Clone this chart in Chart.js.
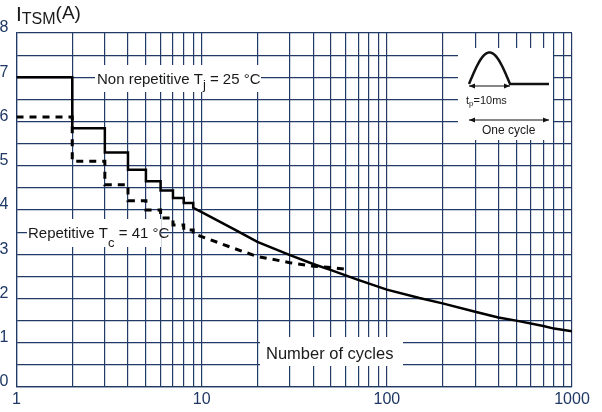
<!DOCTYPE html>
<html>
<head>
  <title>ITSM vs number of cycles</title>
  <script src="https://cdn.jsdelivr.net/npm/chart.js"></script>
  <style>
    html, body { margin: 0; padding: 0; background: #fff; }
    #wrap { width: 602px; height: 412px; }
  </style>
</head>
<body>
  <div id="wrap"><canvas id="surgeChart"></canvas></div>

  <script>
    // values
    var nonRepX = [1, 2, 2, 3, 3, 4, 4, 5, 5, 6, 6, 7, 7, 8, 8, 9, 9, 10, 15, 20, 30, 40, 50, 70, 100, 150, 200, 300, 400, 500, 700, 800, 1000];
    var nonRepY = [7, 7, 5.85, 5.85, 5.3, 5.3, 4.91, 4.91, 4.65, 4.65, 4.44, 4.44, 4.27, 4.27, 4.16, 4.16, 4.05, 3.95, 3.56, 3.28, 2.98, 2.78, 2.64, 2.42, 2.2, 2.01, 1.89, 1.7, 1.57, 1.5, 1.38, 1.32, 1.26];

    var repX = [1, 2, 2, 3, 3, 4, 4, 5, 5, 6, 6, 7, 7, 8, 8, 9, 9, 10, 15, 20, 30, 40, 50, 60];
    var repY = [6.1, 6.1, 5.1, 5.1, 4.57, 4.57, 4.21, 4.21, 4.0, 4.0, 3.82, 3.82, 3.66, 3.66, 3.55, 3.55, 3.46, 3.4, 3.13, 2.95, 2.81, 2.73, 2.7, 2.66];

    var xGrid = [1, 2, 3, 4, 5, 6, 7, 8, 9, 10, 20, 30, 40, 50, 60, 70, 80, 90, 100, 200, 300, 400, 500, 600, 700, 800, 900, 1000];
    var xLabels = [1, 10, 100, 1000];
    var yLabels = [0, 1, 2, 3, 4, 5, 6, 7, 8];

    var gridColor = "#223b66";
    var tickColor = "#1f3864";
    var fontName = "'Liberation Sans', Arial, sans-serif";

    function toPoints(xs, ys) {
      var pts = [];
      for (var i = 0; i < xs.length; i++) {
        pts.push({ x: xs[i], y: ys[i] });
      }
      return pts;
    }

    // draws text pieces one after another, some lowered as subscripts
    function drawPieces(ctx, pieces, x, y) {
      for (var i = 0; i < pieces.length; i++) {
        var p = pieces[i];
        ctx.font = p.size + "px " + fontName;
        ctx.fillText(p.text, x, y + (p.dy || 0));
        x += ctx.measureText(p.text).width;
      }
    }

    var overlayPlugin = {
      id: "overlay",
      beforeDatasetsDraw: function(chart) {
        var ctx = chart.ctx;
        ctx.save();
        ctx.fillStyle = "#fff";
        ctx.fillRect(95, 65, 166, 27);
        ctx.fillRect(27, 219, 134, 28);
        ctx.fillRect(260, 337, 143, 29);
        ctx.fillRect(458, 48, 95, 92);

        ctx.fillStyle = "#1a1a1a";
        ctx.textBaseline = "alphabetic";
        drawPieces(ctx, [
          { text: "Non repetitive T", size: 15 },
          { text: "j", size: 13, dy: 5 },
          { text: " = 25 \u00b0C", size: 15 }
        ], 97, 83.5);
        drawPieces(ctx, [
          { text: "Repetitive T", size: 15 },
          { text: "c", size: 13, dy: 9 },
          { text: " = 41 \u00b0C", size: 15 }
        ], 28, 238);
        drawPieces(ctx, [{ text: "Number of cycles", size: 16.5 }], 266, 359);

        // inset: one pulse
        ctx.strokeStyle = "#111";
        ctx.lineWidth = 2.5;
        ctx.beginPath();
        for (var i = 0; i <= 40; i++) {
          var t = i / 40;
          var px = 469 + t * 41;
          var py = 84 - Math.sin(Math.PI * t) * 31.5;
          if (i === 0) ctx.moveTo(px, py); else ctx.lineTo(px, py);
        }
        ctx.lineTo(549, 84);
        ctx.stroke();

        function arrow(x1, x2, y) {
          ctx.lineWidth = 1.2;
          ctx.beginPath();
          ctx.moveTo(x1, y);
          ctx.lineTo(x2, y);
          ctx.stroke();
          ctx.beginPath();
          ctx.moveTo(x1, y); ctx.lineTo(x1 + 6, y - 2.5); ctx.lineTo(x1 + 6, y + 2.5); ctx.closePath();
          ctx.moveTo(x2, y); ctx.lineTo(x2 - 6, y - 2.5); ctx.lineTo(x2 - 6, y + 2.5); ctx.closePath();
          ctx.fill();
        }
        ctx.fillStyle = "#111";
        arrow(469, 510, 86);
        arrow(469, 549, 120);
        ctx.fillStyle = "#1a1a1a";
        drawPieces(ctx, [
          { text: "t", size: 11 },
          { text: "p", size: 8, dy: 2 },
          { text: "=10ms", size: 11 }
        ], 466, 104);
        drawPieces(ctx, [{ text: "One cycle", size: 12 }], 482, 134);
        ctx.restore();
      },
      afterDraw: function(chart) {
        var ctx = chart.ctx;
        ctx.save();
        ctx.fillStyle = "#1a1a1a";
        drawPieces(ctx, [
          { text: "I", size: 21 },
          { text: "TSM", size: 16, dy: 3 },
          { text: "(A)", size: 19, dy: -2 }
        ], 16, 20.5);
        ctx.restore();
      }
    };

    var surgeChart = new Chart("surgeChart", {
      type: "line",
      data: {
        datasets: [{
          label: "Non repetitive",
          data: toPoints(nonRepX, nonRepY),
          borderColor: "#000",
          borderWidth: 2.5,
          pointRadius: 0,
          tension: 0,
          fill: false
        }, {
          label: "Repetitive",
          data: toPoints(repX, repY),
          borderColor: "#000",
          borderWidth: 3,
          borderDash: [7, 6],
          pointRadius: 0,
          tension: 0,
          fill: false
        }]
      },
      options: {
        responsive: true,
        maintainAspectRatio: false,
        animation: false,
        plugins: {
          legend: { display: false },
          tooltip: { enabled: false }
        },
        layout: {
          padding: { left: 0, right: 30, top: 33, bottom: 0 }
        },
        scales: {
          x: {
            type: "logarithmic",
            min: 1,
            max: 1000,
            afterBuildTicks: function(scale) {
              scale.ticks = xGrid.map(function(v) { return { value: v }; });
            },
            afterFit: function(scale) { scale.height = 25; },
            ticks: {
              autoSkip: false,
              maxRotation: 0,
              padding: 3,
              color: tickColor,
              font: { family: fontName, size: 16 },
              callback: function(v) {
                return xLabels.indexOf(v) >= 0 ? String(v) : "";
              }
            },
            grid: { color: gridColor, lineWidth: 1.2, drawTicks: false },
            border: { color: gridColor, width: 1.2 }
          },
          y: {
            min: 0,
            max: 8,
            afterFit: function(scale) { scale.width = 16.5; },
            ticks: {
              stepSize: 0.5,
              autoSkip: false,
              padding: 8,
              labelOffset: -5,
              color: tickColor,
              font: { family: fontName, size: 16 },
              callback: function(v) {
                return yLabels.indexOf(v) >= 0 ? String(v) : "";
              }
            },
            grid: { color: gridColor, lineWidth: 1.2, drawTicks: false },
            border: { color: gridColor, width: 1.2 }
          }
        }
      },
      plugins: [overlayPlugin]
    });
  </script>
</body>
</html>
